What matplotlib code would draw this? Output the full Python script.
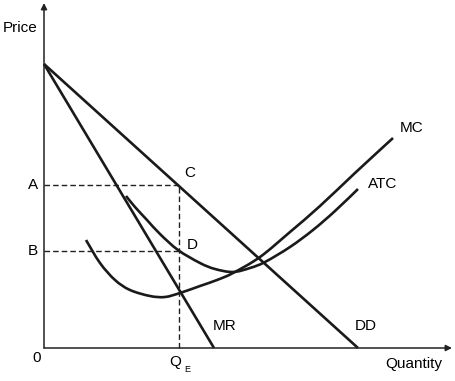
import matplotlib
matplotlib.use("Agg")
import matplotlib.pyplot as plt
from matplotlib.path import Path
from matplotlib.patches import PathPatch

plt.rcParams['font.family'] = ['Liberation Sans', 'DejaVu Sans']

# demand and marginal revenue (straight lines, intercepts)
dd_q = [0, 31.4]
dd_p = [28.4, 0]
mr_q = [0, 17.0]
mr_p = [28.4, 0]

# marginal cost curve
mc_q = [4.2, 5.6, 7.1, 8.6, 10.6, 12.1, 13.6, 15.6, 17.3, 18.9, 21.6, 24.6, 27.6, 31.1, 34.9]
mc_p = [10.8, 8.5, 6.8, 5.8, 5.2, 5.1, 5.5, 6.2, 6.8, 7.5, 9.1, 11.6, 14.2, 17.5, 21.0]

# average total cost curve
atc_q = [8.2, 9.1, 10.3, 11.6, 13.4, 15.6, 17.1, 18.9, 20.6, 22.1, 24.6, 26.9, 29.1, 31.4]
atc_p = [15.2, 14.1, 12.8, 11.4, 9.8, 8.5, 7.9, 7.6, 8.0, 8.6, 10.1, 11.8, 13.7, 15.9]

q_e = 13.5
price_a = 16.3
price_b = 9.7


def smooth_path(xs, ys):
    # bezier segments through the read points (catmull-rom tangents)
    pts = list(zip(xs, ys))
    verts = [pts[0]]
    codes = [Path.MOVETO]
    n = len(pts)
    for i in range(n - 1):
        p0 = pts[i - 1] if i > 0 else pts[i]
        p1 = pts[i]
        p2 = pts[i + 1]
        p3 = pts[i + 2] if i + 2 < n else pts[i + 1]
        c1 = (p1[0] + (p2[0] - p0[0]) / 6, p1[1] + (p2[1] - p0[1]) / 6)
        c2 = (p2[0] - (p3[0] - p1[0]) / 6, p2[1] - (p3[1] - p1[1]) / 6)
        verts += [c1, c2, p2]
        codes += [Path.CURVE4] * 3
    return Path(verts, codes)


fig = plt.figure(figsize=(4.56, 3.81), dpi=100)
ax = fig.add_axes([0, 0, 1, 1])
ax.set_xlim(-4.4, 41.2)
ax.set_ylim(-3.3, 34.8)
ax.axis('off')

# axes with arrows
ax.annotate('', xy=(0, 34.5), xytext=(0, 0),
            arrowprops=dict(arrowstyle='-|>', lw=1.1, color='#222222',
                            mutation_scale=9, shrinkA=0, shrinkB=0))
ax.annotate('', xy=(40.8, 0), xytext=(0, 0),
            arrowprops=dict(arrowstyle='-|>', lw=1.1, color='#222222',
                            mutation_scale=9, shrinkA=0, shrinkB=0))

# dashed guides
dash = dict(color='#222222', lw=1.0, ls=(0, (4, 2.2)))
ax.plot([0, q_e], [price_a, price_a], **dash)
ax.plot([0, q_e], [price_b, price_b], **dash)
ax.plot([q_e, q_e], [0, price_a], **dash)

line = dict(color='#1a1a1a', lw=1.9, solid_capstyle='butt', solid_joinstyle='round')
ax.plot(dd_q, dd_p, **line)
ax.plot(mr_q, mr_p, **line)
for qs, ps in [(mc_q, mc_p), (atc_q, atc_p)]:
    ax.add_patch(PathPatch(smooth_path(qs, ps), facecolor='none',
                           edgecolor='#1a1a1a', lw=1.9, capstyle='butt'))

fs = 11
ax.text(-4.1, 32.0, 'Price', fontsize=fs, va='center', ha='left')
ax.text(-0.6, price_a, 'A', fontsize=fs, va='center', ha='right')
ax.text(-0.6, price_b, 'B', fontsize=fs, va='center', ha='right')
ax.text(-0.7, -1.0, '0', fontsize=fs, va='center', ha='center')
ax.text(14.6, 17.5, 'C', fontsize=fs, va='center', ha='center')
ax.text(14.8, 10.3, 'D', fontsize=fs, va='center', ha='center')
ax.text(36.8, 22.0, 'MC', fontsize=fs, va='center', ha='center')
ax.text(33.9, 16.4, 'ATC', fontsize=fs, va='center', ha='center')
ax.text(18.1, 2.2, 'MR', fontsize=fs, va='center', ha='center')
ax.text(32.2, 2.2, 'DD', fontsize=fs, va='center', ha='center')
ax.text(37.0, -1.6, 'Quantity', fontsize=fs, va='center', ha='center')
ax.text(q_e - 0.4, -1.4, 'Q', fontsize=fs, va='center', ha='center')
ax.text(q_e + 0.5, -2.2, 'E', fontsize=6.5, va='center', ha='left')

fig.savefig('out.png', dpi=100)
